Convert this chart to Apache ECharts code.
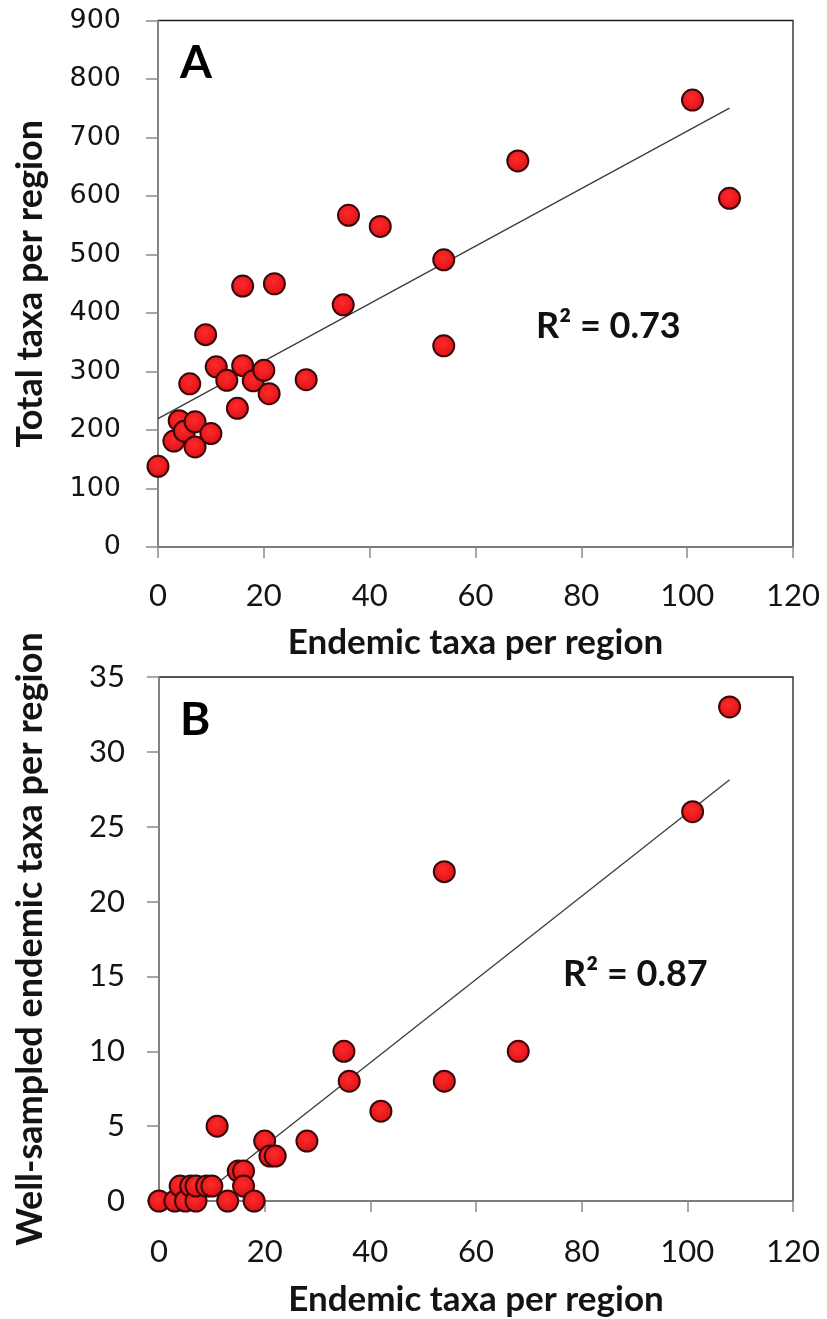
<!DOCTYPE html>
<html>
<head>
<meta charset="utf-8">
<script src="https://cdn.jsdelivr.net/npm/echarts@6/dist/echarts.min.js"></script>
<style>
  html, body { margin: 0; padding: 0; background: #ffffff; }
  #chart { width: 827px; height: 1319px; }
</style>
</head>
<body>
<div id="chart"></div>
<script>
// Endemic taxa per region (shared x values of both panels)
const endemicTaxa = [0, 3, 4, 5, 6, 7, 7, 9, 10, 11, 13, 15, 16, 16, 18, 20, 21, 22, 28, 35, 36, 42, 54, 54, 68, 101, 108];
// Panel A: total taxa per region
const totalTaxa = [138, 181, 216, 198, 279, 214, 171, 363, 194, 308, 285, 237, 310, 446, 284, 302, 262, 450, 286, 414, 567, 548, 491, 344, 660, 764, 596];
// Panel B: well-sampled endemic taxa per region
const wellSampledEndemic = [0, 0, 1, 0, 1, 0, 1, 1, 1, 5, 0, 2, 2, 1, 0, 4, 3, 3, 4, 10, 8, 6, 22, 8, 10, 26, 33];

// Tick values
const xTicks = [0, 20, 40, 60, 80, 100, 120];
const yTicksA = [0, 100, 200, 300, 400, 500, 600, 700, 800, 900];
const yTicksB = [0, 5, 10, 15, 20, 25, 30, 35];

// Ordinary least squares fit with coefficient of determination
function linearFit(xs, ys) {
  const n = xs.length;
  const mx = xs.reduce((a, b) => a + b, 0) / n;
  const my = ys.reduce((a, b) => a + b, 0) / n;
  let sxy = 0, sxx = 0, syy = 0;
  for (let i = 0; i < n; i++) {
    sxy += (xs[i] - mx) * (ys[i] - my);
    sxx += (xs[i] - mx) * (xs[i] - mx);
    syy += (ys[i] - my) * (ys[i] - my);
  }
  const slope = sxy / sxx;
  const intercept = my - slope * mx;
  return { slope, intercept, r2: (sxy * sxy) / (sxx * syy) };
}

function trendPoints(xs, fit) {
  const x0 = Math.min(...xs), x1 = Math.max(...xs);
  return [[x0, fit.intercept + fit.slope * x0], [x1, fit.intercept + fit.slope * x1]];
}

const fitA = linearFit(endemicTaxa, totalTaxa);
const fitB = linearFit(endemicTaxa, wellSampledEndemic);

const pointsA = endemicTaxa.map((x, i) => [x, totalTaxa[i]]);
const pointsB = endemicTaxa.map((x, i) => [x, wellSampledEndemic[i]]);

const BODY = 'Lato, "Open Sans", sans-serif';
const TEXT = '#141414';
const AXIS_GREY = '#8a8a8a';

function step(arr) { return arr[1] - arr[0]; }

function xAxisFor(gridIndex, nameGap, labelMargin) {
  return {
    gridIndex, type: 'value',
    min: xTicks[0], max: xTicks[xTicks.length - 1], interval: step(xTicks),
    name: 'Endemic taxa per region', nameLocation: 'middle', nameGap,
    nameTextStyle: { fontFamily: BODY, fontWeight: 'bold', fontSize: 35, color: TEXT },
    axisLine: { show: true, lineStyle: { color: AXIS_GREY, width: 1.5 } },
    axisTick: { show: true, inside: false, length: 11, lineStyle: { color: AXIS_GREY, width: 1.5 } },
    axisLabel: { fontFamily: BODY, fontSize: 31, color: TEXT, margin: labelMargin },
    splitLine: { show: false }
  };
}

function yAxisFor(gridIndex, ticks, name, nameGap, font, fontSize, labelMargin) {
  return {
    gridIndex, type: 'value',
    min: ticks[0], max: ticks[ticks.length - 1], interval: step(ticks),
    name, nameLocation: 'middle', nameGap, nameRotate: 90,
    nameTextStyle: { fontFamily: BODY, fontWeight: 'bold', fontSize: 36, color: TEXT },
    axisLine: { show: true, onZero: false, lineStyle: { color: AXIS_GREY, width: 1.5 } },
    axisTick: { show: true, inside: false, length: 12, lineStyle: { color: AXIS_GREY, width: 1.5 } },
    axisLabel: { fontFamily: font, fontSize, color: TEXT, margin: labelMargin },
    splitLine: { show: false }
  };
}

const markerStyle = {
  color: {
    type: 'radial', x: 0.45, y: 0.4, r: 0.6,
    colorStops: [{ offset: 0, color: '#ff2a2a' }, { offset: 1, color: '#dc1016' }]
  },
  borderColor: '#3a0808',
  borderWidth: 2,
  opacity: 1
};

const trendStyle = { color: '#3c3c3c', width: 1.3 };

const chart = echarts.init(document.getElementById('chart'), null, { renderer: 'canvas' });

chart.setOption({
  animation: false,
  backgroundColor: '#ffffff',
  grid: [
    { left: 158, top: 20.5, width: 635, height: 526.5, show: true, borderColor: '#1e1e1e', borderWidth: 1.3, backgroundColor: 'transparent' },
    { left: 159, top: 677, width: 634, height: 524, show: true, borderColor: '#1e1e1e', borderWidth: 1.3, backgroundColor: 'transparent' }
  ],
  xAxis: [
    xAxisFor(0, 78, 33),
    xAxisFor(1, 81, 35)
  ],
  yAxis: [
    yAxisFor(0, yTicksA, 'Total taxa per region', 110, '"DejaVu Sans", sans-serif', 27, 37),
    yAxisFor(1, yTicksB, 'Well-sampled endemic taxa per region', 111, BODY, 31, 34)
  ],
  series: [
    {
      type: 'line', xAxisIndex: 0, yAxisIndex: 0, z: 2,
      data: trendPoints(endemicTaxa, fitA), symbol: 'none', clip: true,
      lineStyle: trendStyle, silent: true
    },
    {
      type: 'scatter', xAxisIndex: 0, yAxisIndex: 0, z: 3,
      data: pointsA, symbol: 'circle', symbolSize: 21, itemStyle: markerStyle
    },
    {
      type: 'line', xAxisIndex: 1, yAxisIndex: 1, z: 2,
      data: trendPoints(endemicTaxa, fitB), symbol: 'none', clip: true,
      lineStyle: trendStyle, silent: true
    },
    {
      type: 'scatter', xAxisIndex: 1, yAxisIndex: 1, z: 3,
      data: pointsB, symbol: 'circle', symbolSize: 21, itemStyle: markerStyle
    }
  ],
  graphic: [
    { type: 'text', left: 180, top: 40, z: 10,
      style: { text: 'A', font: 'bold 46px Lato, sans-serif', fill: '#000' } },
    { type: 'text', left: 180, top: 697, z: 10,
      style: { text: 'B', font: 'bold 46px Lato, sans-serif', fill: '#000' } },
    { type: 'text', left: 536, top: 308, z: 10,
      style: { text: 'R² = ' + fitA.r2.toFixed(2), font: 'bold 36px Lato, sans-serif', fill: '#111' } },
    { type: 'text', left: 563, top: 956, z: 10,
      style: { text: 'R² = ' + fitB.r2.toFixed(2), font: 'bold 36px Lato, sans-serif', fill: '#111' } }
  ]
});
</script>
</body>
</html>
